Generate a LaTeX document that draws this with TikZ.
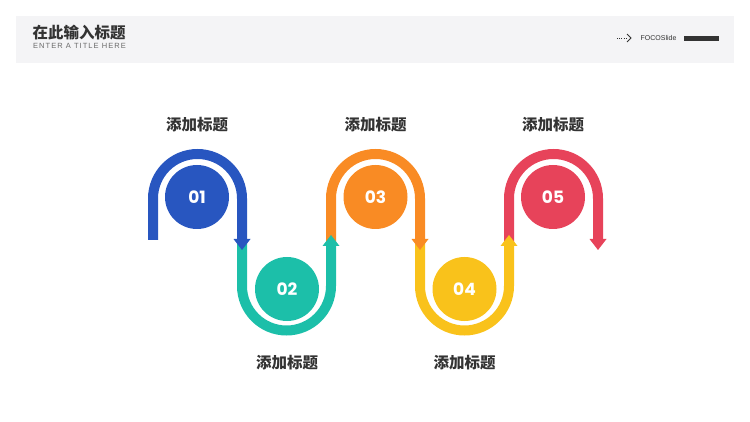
\documentclass[tikz,border=0pt]{standalone}
\usepackage{fontspec}
\setmainfont{Liberation Sans}
\newfontfamily\cjk{Noto Sans CJK SC}
\newfontfamily\numfont{Poppins}
\newfontfamily\subfont[LetterSpace=14]{Liberation Sans}
\definecolor{bandgray}{HTML}{F4F4F6}
\definecolor{txtdark}{HTML}{333333}
\definecolor{txtgray}{HTML}{6A6A6A}
\definecolor{cblue}{HTML}{2856C0}
\definecolor{cteal}{HTML}{1CBFA9}
\definecolor{corange}{HTML}{F98B24}
\definecolor{cyellow}{HTML}{F9C21B}
\definecolor{cred}{HTML}{E7435A}
\begin{document}
\begin{tikzpicture}[x=1pt,y=-1pt,
  track/.style={line width=10pt},
  numcircle/.style={circle,minimum size=64pt,inner sep=0pt,text=white,font=\numfont\bfseries\fontsize{17}{17}\selectfont},
  steplabel/.style={text=txtdark,font=\cjk\bfseries\fontsize{15.5}{15.5}\selectfont,inner sep=0pt}]
\useasboundingbox (0,0) rectangle (750,422);
% header band
\fill[bandgray] (16,16) rectangle (734,63);
\node[anchor=west,inner sep=0pt,text=txtdark,font=\cjk\bfseries\fontsize{15.5}{15.5}\selectfont] (title) at (32.5,32.5) {在此输入标题};
\node[anchor=west,inner sep=0pt,text=txtgray,font=\subfont\fontsize{7.5}{7.5}\selectfont] (subtitle) at (33,46.3) {ENTER A TITLE HERE};
\draw[txtdark,line width=0.9pt,dash pattern=on 0.9pt off 1.3pt] (617,38) -- (626,38);
\draw[txtdark,line width=1pt] (627,34) -- (631,38) -- (627,42);
\node[anchor=west,inner sep=0pt,text=txtdark,font=\fontsize{7}{7}\selectfont] (brand) at (640.5,37.8) {FOCOSlide};
\fill[txtdark] (684,36) rectangle (719,41);
% tracks (drawn in reverse order so each arrow lies on the next track)
\coordinate (r0) at (509,246);
\draw[track,cred] (r0) -- (509,198.5) arc[start angle=180,end angle=360,radius=44.5] -- (598,239);
\fill[cred] (589.5,239) -- (606.5,239) -- (598,250) -- cycle;
\coordinate (y0) at (420,240);
\draw[track,cyellow] (y0) -- (420,286) arc[start angle=180,end angle=0,radius=44.5] -- (509,246);
\fill[cyellow] (500.5,246) -- (517.5,246) -- (509,235) -- cycle;
\coordinate (o0) at (331,246);
\draw[track,corange] (o0) -- (331,198.5) arc[start angle=180,end angle=360,radius=44.5] -- (420,239);
\fill[corange] (411.5,239) -- (428.5,239) -- (420,250) -- cycle;
\coordinate (t0) at (242,240);
\draw[track,cteal] (t0) -- (242,286) arc[start angle=180,end angle=0,radius=44.5] -- (331,246);
\fill[cteal] (322.5,246) -- (339.5,246) -- (331,235) -- cycle;
\coordinate (b0) at (153,240);
\draw[track,cblue] (b0) -- (153,198.5) arc[start angle=180,end angle=360,radius=44.5] -- (242,239);
\fill[cblue] (233.5,239) -- (250.5,239) -- (242,250) -- cycle;
% circles
\node[numcircle,fill=cblue] (n1) at (197,197) {01};
\node[numcircle,fill=cteal] (n2) at (287,289) {02};
\node[numcircle,fill=corange] (n3) at (375.5,197) {03};
\node[numcircle,fill=cyellow] (n4) at (464.5,289) {04};
\node[numcircle,fill=cred] (n5) at (553,197) {05};
% labels
\node[steplabel] (l1) at (197,125) {添加标题};
\node[steplabel] (l2) at (287,362.5) {添加标题};
\node[steplabel] (l3) at (375.5,125) {添加标题};
\node[steplabel] (l4) at (464.5,362.5) {添加标题};
\node[steplabel] (l5) at (553,125) {添加标题};
\end{tikzpicture}
\end{document}
